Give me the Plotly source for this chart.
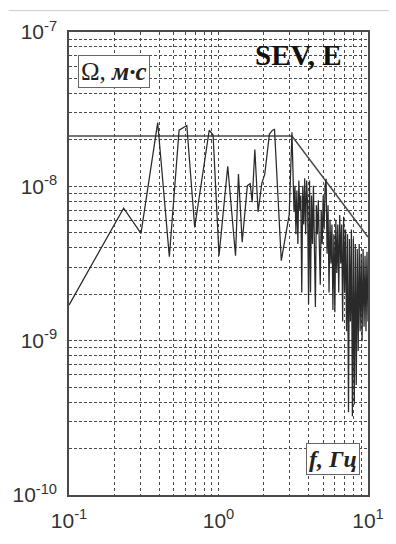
import plotly.graph_objects as go

# ---- data ----
# spectrum: frequency (Hz) and amplitude (units of 1e-9 m*s)
freq_low = [0.1, 0.232, 0.303, 0.392, 0.469, 0.545, 0.614, 0.693, 0.867, 0.920,
            1.008, 1.153, 1.30, 1.36, 1.44, 1.56, 1.63, 1.68, 1.75, 1.84,
            1.95, 2.04, 2.19, 2.30, 2.37, 2.63, 2.97, 3.10, 3.20]
amp_low = [1.70, 7.23, 4.96, 25.9, 3.50, 23.1, 24.8, 5.41, 23.1, 21.5,
           3.55, 13.5, 3.55, 12.0, 4.35, 10.1, 10.4, 7.89, 17.3, 6.83,
           10.5, 12.0, 21.8, 23.1, 23.4, 3.30, 6.53, 22.4, 6.83]

freq_high = [3.246, 3.295, 3.345, 3.396, 3.447, 3.499, 3.552, 3.605, 3.660, 3.715,
             3.771, 3.828, 3.886, 3.945, 4.004, 4.065, 4.126, 4.188, 4.252, 4.316,
             4.381, 4.447, 4.514, 4.583, 4.652, 4.722, 4.793, 4.866, 4.939, 5.014,
             5.090, 5.166, 5.245, 5.324, 5.404, 5.486, 5.569, 5.653, 5.738, 5.825,
             5.913, 6.002, 6.093, 6.185, 6.278, 6.373, 6.469, 6.567, 6.666, 6.767,
             6.869, 6.973, 7.078, 7.185, 7.294, 7.404, 7.516, 7.629, 7.745, 7.862,
             7.980, 8.101, 8.223, 8.348, 8.474, 8.601, 8.731, 8.863, 8.997, 9.133,
             9.271, 9.411, 9.553, 9.697, 9.844, 10.0]
amp_high = [10.1, 4.89, 9.40, 4.23, 10.9, 7.03, 8.73, 2.05, 10.1, 5.65,
            11.3, 4.89, 10.9, 7.55, 1.72, 10.9, 2.05, 8.73, 4.23, 10.1,
            3.66, 1.65, 7.55, 4.89, 8.12, 3.16, 2.30, 7.03, 4.23, 8.73,
            5.26, 10.1, 11.2, 3.66, 7.55, 2.05, 6.08, 3.16, 5.65, 1.58,
            4.89, 1.53, 6.08, 2.74, 5.65, 2.05, 6.53, 3.16, 5.65, 1.33,
            6.35, 2.05, 5.26, 1.15, 4.89, 0.344, 4.55, 1.33, 5.26, 0.324,
            4.55, 0.386, 4.23, 0.516, 3.93, 0.857, 4.23, 1.15, 3.66, 0.99,
            3.93, 1.23, 3.55, 1.15, 3.77, 1.33]

# envelope (model) line
env_freq = [0.1, 3.10, 10.0]
env_amp = [21.2, 21.2, 4.7]

unit = 1e-9

x_ticks = [0.1, 1.0, 10.0]
x_text = ["10<sup>-1</sup>", "10<sup>0</sup>", "10<sup>1</sup>"]
y_ticks = [1e-10, 1e-9, 1e-8, 1e-7]
y_text = ["10<sup>-10</sup>", "10<sup>-9</sup>", "10<sup>-8</sup>", "10<sup>-7</sup>"]

spec_f = freq_low + freq_high
spec_a = [a * unit for a in amp_low + amp_high]

fig = go.Figure()
fig.add_trace(go.Scatter(x=env_freq, y=[a * unit for a in env_amp], mode="lines",
                         line=dict(color="#4a4a4a", width=1.5), hoverinfo="skip"))
fig.add_trace(go.Scatter(x=spec_f, y=spec_a, mode="lines",
                         line=dict(color="#2a2a2a", width=1.25)))

grid_col = "#4a4a4a"
fig.update_xaxes(type="log", range=[-1, 1], tickmode="array", tickvals=x_ticks,
                 ticktext=x_text, showgrid=True, gridcolor=grid_col, gridwidth=1.2,
                 griddash="dot", showline=True, mirror=True, linecolor="#4a4a4a",
                 linewidth=1.5, ticks="", zeroline=False, ticklabelstandoff=6,
                 minor=dict(dtick="D1", showgrid=True, gridcolor=grid_col,
                            gridwidth=1.2, griddash="dot", ticks=""),
                 tickfont=dict(family="Liberation Sans, Arial", size=21, color="#333333"))
fig.update_yaxes(type="log", range=[-10, -7], tickmode="array", tickvals=y_ticks,
                 ticktext=y_text, showgrid=True, gridcolor=grid_col, gridwidth=1.2,
                 griddash="3px,2px", showline=True, mirror=True, linecolor="#4a4a4a",
                 linewidth=1.5, ticks="", zeroline=False, ticklabelstandoff=6,
                 minor=dict(dtick="D1", showgrid=True, gridcolor=grid_col,
                            gridwidth=1.2, griddash="3px,2px", ticks=""),
                 tickfont=dict(family="Liberation Sans, Arial", size=21, color="#333333"))

fig.add_annotation(xref="paper", yref="paper", x=0.150, y=0.915, xanchor="center",
                   yanchor="middle", showarrow=False,
                   text="Ω, <b><i>м·с</i></b>",
                   font=dict(family="Liberation Serif, Times New Roman", size=25, color="#222222"),
                   bordercolor="#666666", borderwidth=1, borderpad=2, bgcolor="white")
fig.add_annotation(xref="paper", yref="paper", x=0.769, y=0.950, xanchor="center",
                   yanchor="middle", showarrow=False, text="<b>SEV, E</b>",
                   font=dict(family="Liberation Serif, Times New Roman", size=29, color="#111111"))
fig.add_annotation(xref="paper", yref="paper", x=0.884, y=0.078, xanchor="center",
                   yanchor="middle", showarrow=False, text="<b><i>f, Гц</i></b>",
                   font=dict(family="Liberation Serif, Times New Roman", size=24, color="#222222"),
                   bordercolor="#666666", borderwidth=1, borderpad=2, bgcolor="white")

# thin page border line above the chart
fig.add_shape(type="line", xref="paper", yref="paper", x0=-0.202, x1=1.07,
              y0=1.0462, y1=1.0462, line=dict(color="#cccccc", width=1))

fig.update_layout(width=396, height=544, margin=dict(l=69, r=20, t=32, b=36),
                  paper_bgcolor="white", plot_bgcolor="white", showlegend=False)

fig.write_html("out.html")
